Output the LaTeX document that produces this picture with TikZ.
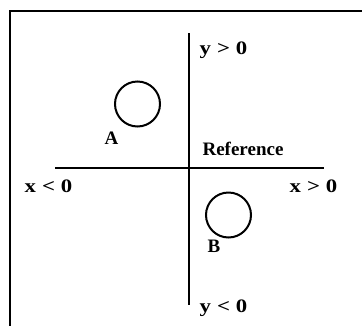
\documentclass[tikz,border=0pt]{standalone}
\usepackage{fontspec}
\setmainfont{Liberation Serif}
\begin{document}
\begin{tikzpicture}[x=1pt,y=-1pt,
  frameline/.style={line width=2.6pt},
  axisline/.style={line width=2.8pt},
  body/.style={circle,draw,line width=2pt,minimum size=45pt,inner sep=0pt},
  lbl/.style={anchor=base,inner sep=0pt,font=\fontsize{19}{22}\selectfont\bfseries},
  rel/.style={lbl,xscale=1.2}]
\useasboundingbox (0,0) rectangle (362,325);
% frame (top and left edges)
\coordinate (fTR) at (362,11);
\coordinate (fTL) at (10,11);
\coordinate (fBL) at (10,326);
\draw[frameline] (fTR) -- (fTL) -- (fBL);
% axes
\coordinate (yT) at (189,33);
\coordinate (yB) at (189,305);
\coordinate (xL) at (55,168);
\coordinate (xR) at (324,168);
\draw[axisline] (yT) -- (yB);
\draw[axisline] (xL) -- (xR);
% bodies
\node[body] (A) at (137.5,104) {};
\node[body] (B) at (228.5,215) {};
% labels
\node[lbl] (lA) at (111.5,144) {A};
\node[lbl] (lB) at (214,252) {B};
\node[rel] (ypos) at (223.5,54) {y\hspace{5pt}>\hspace{5pt}0};
\node[rel] (yneg) at (223.5,312) {y\hspace{5pt}<\hspace{5pt}0};
\node[rel] (xneg) at (48.5,192) {x\hspace{5pt}<\hspace{5pt}0};
\node[rel] (xpos) at (313.5,192) {x\hspace{5pt}>\hspace{5pt}0};
\node[lbl] (ref) at (243,155) {Reference};
\end{tikzpicture}
\end{document}
